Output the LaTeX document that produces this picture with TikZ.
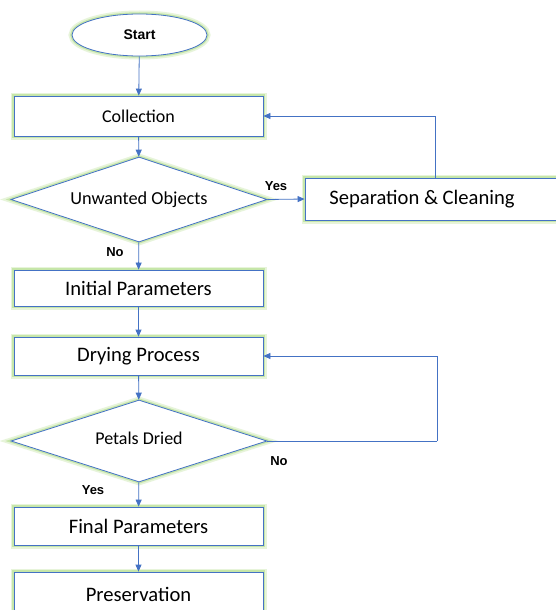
\documentclass[tikz,border=0pt]{standalone}
\usepackage{fontspec}
\setmainfont{Carlito}
\newfontfamily\lblfont{Liberation Sans}
\usetikzlibrary{shapes.geometric,arrows.meta}
\definecolor{edgeblue}{RGB}{68,114,196}
\definecolor{glowc}{RGB}{160,215,110}
\tikzset{
  glow/.style={preaction={draw=glowc,line width=7pt,opacity=.25},
               preaction={draw=glowc,line width=3.5pt,opacity=.45}},
  procbox/.style={draw=edgeblue,line width=0.8pt,fill=white,rectangle,glow,
                  minimum width=249pt,minimum height=40pt,inner sep=0pt},
  decision/.style={draw=edgeblue,line width=0.8pt,fill=white,diamond,aspect=3,glow,
                   minimum width=256pt,minimum height=85pt,inner sep=0pt},
  terminal/.style={draw=edgeblue,line width=0.8pt,fill=white,ellipse,glow,
                   minimum width=135pt,minimum height=42pt,inner sep=0pt},
  conn/.style={draw=edgeblue,line width=0.8pt,-{Triangle[length=7pt,width=6pt]}},
  plain/.style={draw=edgeblue,line width=0.8pt},
  lbl/.style={font=\lblfont\bfseries\fontsize{13}{15}\selectfont,inner sep=0pt}
}
\begin{document}
\begin{tikzpicture}[x=1pt,y=-1pt]
\clip (0,0) rectangle (556,610);
\fill[white] (0,0) rectangle (556,610);

\node[terminal,font=\lblfont\bfseries\fontsize{14}{16}\selectfont] (start) at (139.5,35) {Start};
\node[procbox,font=\fontsize{18}{20}\selectfont] (coll) at (138.5,116) {Collection};
\node[decision,font=\fontsize{18.3}{20}\selectfont] (unw) at (139,199.5) {Unwanted Objects};
\node[procbox,minimum width=260pt,minimum height=42pt,font=\fontsize{20.6}{22}\selectfont] (sep) at (435,199) {\raisebox{-1pt}{Separation \& Cleaning}\kern26pt};
\node[procbox,minimum height=36pt,font=\fontsize{20.6}{22}\selectfont] (init) at (138.5,288) {Initial Parameters};
\node[procbox,minimum height=38pt,font=\fontsize{20.6}{22}\selectfont] (dry) at (138.5,356) {Drying Process};
\node[decision,minimum height=82pt,font=\fontsize{18}{20}\selectfont] (pet) at (139,441) {\raisebox{5pt}{Petals Dried}};
\node[procbox,minimum height=38pt,font=\fontsize{20.6}{22}\selectfont] (fin) at (138.5,526) {Final Parameters};
\node[procbox,minimum height=44pt,font=\fontsize{20.6}{22}\selectfont] (pres) at (138.5,594) {\raisebox{-1pt}{Preservation}};

\coordinate (loopc) at (437,441);

\draw[conn] (start) -- (coll);
\draw[conn] (coll) -- (unw);
\draw[conn] (unw.east) -- (sep.west);
\draw[conn] (sep.north) |- (coll.east);
\draw[conn] (unw) -- (init);
\draw[conn] (init) -- (dry);
\draw[conn] (dry) -- (pet);
\draw[plain] (pet.east) -- (loopc);
\draw[conn] (loopc) |- (dry.east);
\draw[conn] (pet) -- (fin);
\draw[conn] (fin) -- (pres);

\node[lbl] (yes1) at (276,186) {Yes};
\node[lbl] (no1) at (115,252) {No};
\node[lbl] (no2) at (279,461) {No};
\node[lbl] (yes2) at (93,490) {Yes};
\end{tikzpicture}
\end{document}
